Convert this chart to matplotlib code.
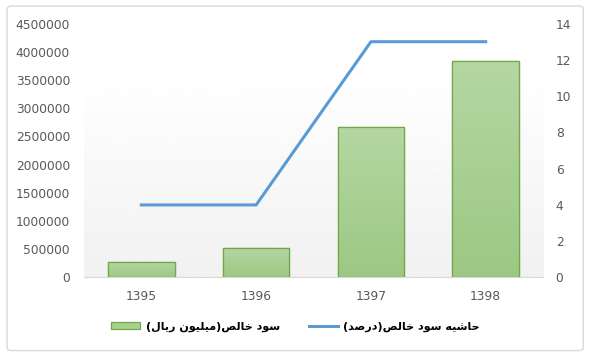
import numpy as np
import matplotlib.pyplot as plt
from matplotlib.patches import FancyBboxPatch, Patch
from matplotlib.lines import Line2D
from matplotlib.colors import LinearSegmentedColormap

years = ['1395', '1396', '1397', '1398']
net_profit = [275000, 517000, 2670000, 3840000]   # million rials
net_margin = [4, 4, 13, 13]                         # percent
label_profit = 'سود خالص(میلیون ریال)'
label_margin = 'حاشیه سود خالص(درصد)'

# minimal arabic/persian shaping (matplotlib has no bidi/shaping)
FORMS = {
    'ا': ('\uFE8D', '\uFE8E', None, None),
    'ح': ('\uFEA1', '\uFEA2', '\uFEA3', '\uFEA4'),
    'خ': ('\uFEA5', '\uFEA6', '\uFEA7', '\uFEA8'),
    'د': ('\uFEA9', '\uFEAA', None, None),
    'ر': ('\uFEAD', '\uFEAE', None, None),
    'س': ('\uFEB1', '\uFEB2', '\uFEB3', '\uFEB4'),
    'ش': ('\uFEB5', '\uFEB6', '\uFEB7', '\uFEB8'),
    'ص': ('\uFEB9', '\uFEBA', '\uFEBB', '\uFEBC'),
    'ل': ('\uFEDD', '\uFEDE', '\uFEDF', '\uFEE0'),
    'م': ('\uFEE1', '\uFEE2', '\uFEE3', '\uFEE4'),
    'ن': ('\uFEE5', '\uFEE6', '\uFEE7', '\uFEE8'),
    'ه': ('\uFEE9', '\uFEEA', '\uFEEB', '\uFEEC'),
    'و': ('\uFEED', '\uFEEE', None, None),
    'ی': ('\uFEEF', '\uFEF0', '\uFEF3', '\uFEF4'),
}


def shape(text):
    out = []
    for i, ch in enumerate(text):
        if ch not in FORMS:
            out.append(ch)
            continue
        prev = text[i - 1] if i > 0 else ''
        nxt = text[i + 1] if i + 1 < len(text) else ''
        join_prev = prev in FORMS and FORMS[prev][2] is not None
        join_next = FORMS[ch][2] is not None and nxt in FORMS
        iso, fin, ini, med = FORMS[ch]
        if join_prev and join_next:
            out.append(med)
        elif join_prev:
            out.append(fin)
        elif join_next:
            out.append(ini)
        else:
            out.append(iso)
    vis = ''.join(reversed(out))
    return vis.translate(str.maketrans('()', ')('))


fig = plt.figure(figsize=(5.91, 3.57), dpi=100)
frame = FancyBboxPatch((0.012, 0.018), 0.975, 0.965, boxstyle='round,pad=0,rounding_size=0.008',
                       transform=fig.transFigure, facecolor='white',
                       edgecolor='#d9d9d9', linewidth=1, zorder=-10)
fig.patches.append(frame)

ax = fig.add_axes([0.142, 0.2227, 0.777, 0.7113])
ax.set_facecolor('none')
x = np.arange(len(years))

# faint background gradient of the plot area
bg = np.linspace(1.0, 0.945, 100).reshape(-1, 1)
ax.imshow(bg, extent=[-0.5, 3.5, 0, 3700000], aspect='auto', cmap='gray', vmin=0, vmax=1,
          origin='upper', zorder=0)

bars = ax.bar(x, net_profit, width=0.58, facecolor='#a9d18e', edgecolor='#70a84a', linewidth=0.9, zorder=2)
grad = np.linspace(0, 1, 100).reshape(-1, 1)
gcmap = LinearSegmentedColormap.from_list('g', ['#9dc883', '#b5d7a3'])
for b in bars:
    im = ax.imshow(grad, extent=[b.get_x(), b.get_x() + b.get_width(), 0, b.get_height()],
                   aspect='auto', cmap=gcmap, origin='lower', zorder=2.5)
    im.set_clip_path(b)
    ax.add_patch(plt.Rectangle((b.get_x(), 0), b.get_width(), b.get_height(), fill=False,
                               edgecolor='#70a84a', linewidth=0.9, zorder=3))

ax.set_xlim(-0.5, 3.5)
ax.set_ylim(0, 4500000)
ax.set_yticks(np.arange(0, 4500001, 500000))
ax.set_yticklabels([str(v) for v in range(0, 4500001, 500000)])
ax.set_xticks(x)
ax.set_xticklabels(years)
for s in ['top', 'left', 'right']:
    ax.spines[s].set_visible(False)
ax.spines['bottom'].set_color('#d9d9d9')
ax.tick_params(axis='y', length=0, pad=10, labelsize=8.8, labelcolor='#595959')
ax.tick_params(axis='x', length=0, pad=9, labelsize=8.8, labelcolor='#595959')

ax2 = ax.twinx()
ax2.plot(x, net_margin, color='#5b9bd5', linewidth=2.2, zorder=4)
ax2.set_ylim(0, 14)
ax2.set_yticks(range(0, 15, 2))
for s in ['top', 'left', 'right', 'bottom']:
    ax2.spines[s].set_visible(False)
ax2.tick_params(axis='y', length=0, pad=9, labelsize=8.8, labelcolor='#595959')

handles = [Patch(facecolor='#a9d18e', edgecolor='#70a84a', linewidth=0.9),
           Line2D([0], [0], color='#5b9bd5', linewidth=2.2)]
fig.legend(handles, [shape(label_profit), shape(label_margin)], loc='center',
           bbox_to_anchor=(0.5, 0.085), ncol=2, frameon=False, handlelength=2.6,
           handleheight=0.6, columnspacing=2.6, handletextpad=0.5,
           prop={'family': 'DejaVu Sans', 'weight': 'bold', 'size': 8})

fig.savefig('out.png', dpi=100)
